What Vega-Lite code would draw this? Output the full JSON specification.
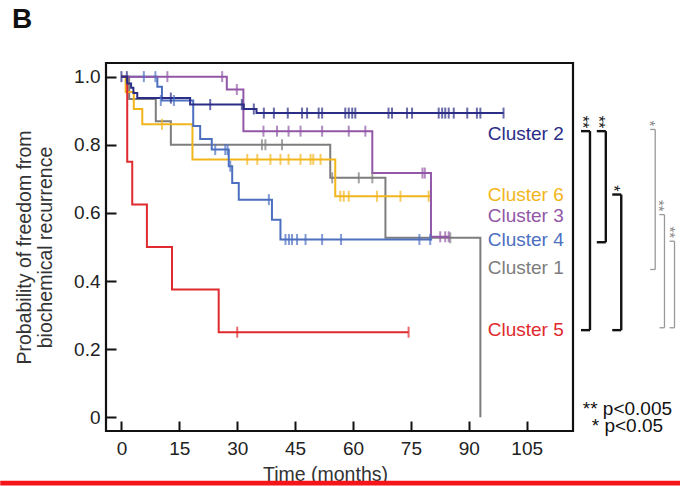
{
  "$schema": "https://vega.github.io/schema/vega-lite/v6.json",
  "width": 467,
  "height": 368,
  "autosize": {"type": "none"},
  "padding": {"left": 106, "top": 63, "right": 107, "bottom": 55},
  "background": "white",
  "config": {
    "font": "Liberation Sans",
    "view": {"stroke": "#111", "strokeWidth": 2.2},
    "axis": {
      "domain": false, "grid": false, "ticks": true,
      "tickColor": "#111", "tickWidth": 2, "tickSize": -10,
      "labelFontSize": 19, "labelColor": "#222",
      "titleFontSize": 19.5, "titleFontWeight": "normal", "titleColor": "#333"
    }
  },
  "title": {
    "text": "B", "anchor": "start", "frame": "group", "dx": -94, "dy": 26,
    "fontSize": 28, "fontWeight": "bold", "color": "#111",
    "baseline": "alphabetic", "offset": 33
  },
  "datasets": {
    "curves": [
      {"cluster": "Cluster 1", "t": 0, "s": 1}, {"cluster": "Cluster 1", "t": 2, "s": 0.934}, {"cluster": "Cluster 1", "t": 8.9, "s": 0.869}, {"cluster": "Cluster 1", "t": 12.8, "s": 0.8}, {"cluster": "Cluster 1", "t": 54.1, "s": 0.703}, {"cluster": "Cluster 1", "t": 68.4, "s": 0.527}, {"cluster": "Cluster 1", "t": 93, "s": 0},
      {"cluster": "Cluster 6", "t": 0, "s": 1}, {"cluster": "Cluster 6", "t": 1.1, "s": 0.955}, {"cluster": "Cluster 6", "t": 3.2, "s": 0.905}, {"cluster": "Cluster 6", "t": 5.4, "s": 0.86}, {"cluster": "Cluster 6", "t": 18.4, "s": 0.757}, {"cluster": "Cluster 6", "t": 55.4, "s": 0.649}, {"cluster": "Cluster 6", "t": 80, "s": 0.649},
      {"cluster": "Cluster 4", "t": 0, "s": 1}, {"cluster": "Cluster 4", "t": 9.3, "s": 0.97}, {"cluster": "Cluster 4", "t": 10.5, "s": 0.93}, {"cluster": "Cluster 4", "t": 18.6, "s": 0.855}, {"cluster": "Cluster 4", "t": 20.4, "s": 0.817}, {"cluster": "Cluster 4", "t": 23.4, "s": 0.786}, {"cluster": "Cluster 4", "t": 27.8, "s": 0.737}, {"cluster": "Cluster 4", "t": 28.7, "s": 0.688}, {"cluster": "Cluster 4", "t": 30.4, "s": 0.639}, {"cluster": "Cluster 4", "t": 39, "s": 0.58}, {"cluster": "Cluster 4", "t": 41.2, "s": 0.522}, {"cluster": "Cluster 4", "t": 80.5, "s": 0.522},
      {"cluster": "Cluster 3", "t": 0, "s": 1}, {"cluster": "Cluster 3", "t": 27.3, "s": 0.962}, {"cluster": "Cluster 3", "t": 31.6, "s": 0.84}, {"cluster": "Cluster 3", "t": 65, "s": 0.717}, {"cluster": "Cluster 3", "t": 80.2, "s": 0.53}, {"cluster": "Cluster 3", "t": 85, "s": 0.53},
      {"cluster": "Cluster 5", "t": 0, "s": 1}, {"cluster": "Cluster 5", "t": 1.5, "s": 0.75}, {"cluster": "Cluster 5", "t": 2.8, "s": 0.625}, {"cluster": "Cluster 5", "t": 6.6, "s": 0.5}, {"cluster": "Cluster 5", "t": 13.1, "s": 0.375}, {"cluster": "Cluster 5", "t": 25.2, "s": 0.25}, {"cluster": "Cluster 5", "t": 74.4, "s": 0.25},
      {"cluster": "Cluster 2", "t": 0, "s": 1}, {"cluster": "Cluster 2", "t": 1.5, "s": 0.98}, {"cluster": "Cluster 2", "t": 2.5, "s": 0.967}, {"cluster": "Cluster 2", "t": 3.1, "s": 0.952}, {"cluster": "Cluster 2", "t": 4.1, "s": 0.937}, {"cluster": "Cluster 2", "t": 17.8, "s": 0.918}, {"cluster": "Cluster 2", "t": 31.7, "s": 0.905}, {"cluster": "Cluster 2", "t": 35, "s": 0.893}, {"cluster": "Cluster 2", "t": 99, "s": 0.893}
    ],
    "censor": [
      {"cluster": "Cluster 1", "t": 36.4, "s": 0.8}, {"cluster": "Cluster 1", "t": 37.3, "s": 0.8}, {"cluster": "Cluster 1", "t": 41.6, "s": 0.8}, {"cluster": "Cluster 1", "t": 54.6, "s": 0.703}, {"cluster": "Cluster 1", "t": 61.5, "s": 0.703}, {"cluster": "Cluster 1", "t": 65, "s": 0.703}, {"cluster": "Cluster 1", "t": 85.2, "s": 0.527},
      {"cluster": "Cluster 6", "t": 10.5, "s": 0.86}, {"cluster": "Cluster 6", "t": 32.6, "s": 0.757}, {"cluster": "Cluster 6", "t": 35.2, "s": 0.757}, {"cluster": "Cluster 6", "t": 38.6, "s": 0.757}, {"cluster": "Cluster 6", "t": 41.2, "s": 0.757}, {"cluster": "Cluster 6", "t": 43.3, "s": 0.757}, {"cluster": "Cluster 6", "t": 46.4, "s": 0.757}, {"cluster": "Cluster 6", "t": 49, "s": 0.757}, {"cluster": "Cluster 6", "t": 49.7, "s": 0.757}, {"cluster": "Cluster 6", "t": 51.6, "s": 0.757}, {"cluster": "Cluster 6", "t": 56.7, "s": 0.649}, {"cluster": "Cluster 6", "t": 57.6, "s": 0.649}, {"cluster": "Cluster 6", "t": 58.9, "s": 0.649}, {"cluster": "Cluster 6", "t": 66.2, "s": 0.649}, {"cluster": "Cluster 6", "t": 72.3, "s": 0.649}, {"cluster": "Cluster 6", "t": 79.6, "s": 0.649},
      {"cluster": "Cluster 4", "t": 5.8, "s": 1}, {"cluster": "Cluster 4", "t": 8.8, "s": 1}, {"cluster": "Cluster 4", "t": 10.2, "s": 0.93}, {"cluster": "Cluster 4", "t": 13.6, "s": 0.93}, {"cluster": "Cluster 4", "t": 24.3, "s": 0.786}, {"cluster": "Cluster 4", "t": 26.9, "s": 0.786}, {"cluster": "Cluster 4", "t": 27.5, "s": 0.786}, {"cluster": "Cluster 4", "t": 28.2, "s": 0.737}, {"cluster": "Cluster 4", "t": 38.2, "s": 0.639}, {"cluster": "Cluster 4", "t": 42.5, "s": 0.522}, {"cluster": "Cluster 4", "t": 43.4, "s": 0.522}, {"cluster": "Cluster 4", "t": 44.2, "s": 0.522}, {"cluster": "Cluster 4", "t": 45.5, "s": 0.522}, {"cluster": "Cluster 4", "t": 47.7, "s": 0.522}, {"cluster": "Cluster 4", "t": 52, "s": 0.522}, {"cluster": "Cluster 4", "t": 56.9, "s": 0.522}, {"cluster": "Cluster 4", "t": 77.2, "s": 0.522}, {"cluster": "Cluster 4", "t": 80, "s": 0.522},
      {"cluster": "Cluster 3", "t": 11.9, "s": 1}, {"cluster": "Cluster 3", "t": 26.1, "s": 1}, {"cluster": "Cluster 3", "t": 29.9, "s": 0.962}, {"cluster": "Cluster 3", "t": 36.8, "s": 0.84}, {"cluster": "Cluster 3", "t": 40.3, "s": 0.84}, {"cluster": "Cluster 3", "t": 43.3, "s": 0.84}, {"cluster": "Cluster 3", "t": 46.4, "s": 0.84}, {"cluster": "Cluster 3", "t": 52, "s": 0.84}, {"cluster": "Cluster 3", "t": 58.9, "s": 0.84}, {"cluster": "Cluster 3", "t": 63.2, "s": 0.84}, {"cluster": "Cluster 3", "t": 78, "s": 0.717}, {"cluster": "Cluster 3", "t": 78.6, "s": 0.717}, {"cluster": "Cluster 3", "t": 82.6, "s": 0.53}, {"cluster": "Cluster 3", "t": 83.9, "s": 0.53}, {"cluster": "Cluster 3", "t": 84.8, "s": 0.53},
      {"cluster": "Cluster 5", "t": 30, "s": 0.25}, {"cluster": "Cluster 5", "t": 74.4, "s": 0.25},
      {"cluster": "Cluster 2", "t": 0, "s": 1}, {"cluster": "Cluster 2", "t": 1.4, "s": 1}, {"cluster": "Cluster 2", "t": 12.8, "s": 0.937}, {"cluster": "Cluster 2", "t": 23, "s": 0.918}, {"cluster": "Cluster 2", "t": 31.2, "s": 0.918}, {"cluster": "Cluster 2", "t": 34.3, "s": 0.905}, {"cluster": "Cluster 2", "t": 36.9, "s": 0.893}, {"cluster": "Cluster 2", "t": 39.5, "s": 0.893}, {"cluster": "Cluster 2", "t": 43.1, "s": 0.893}, {"cluster": "Cluster 2", "t": 46.8, "s": 0.893}, {"cluster": "Cluster 2", "t": 48.1, "s": 0.893}, {"cluster": "Cluster 2", "t": 51.1, "s": 0.893}, {"cluster": "Cluster 2", "t": 52, "s": 0.893}, {"cluster": "Cluster 2", "t": 58, "s": 0.893}, {"cluster": "Cluster 2", "t": 58.9, "s": 0.893}, {"cluster": "Cluster 2", "t": 59.8, "s": 0.893}, {"cluster": "Cluster 2", "t": 60.6, "s": 0.893}, {"cluster": "Cluster 2", "t": 69.2, "s": 0.893}, {"cluster": "Cluster 2", "t": 70.1, "s": 0.893}, {"cluster": "Cluster 2", "t": 74, "s": 0.893}, {"cluster": "Cluster 2", "t": 75.3, "s": 0.893}, {"cluster": "Cluster 2", "t": 82.2, "s": 0.893}, {"cluster": "Cluster 2", "t": 83.1, "s": 0.893}, {"cluster": "Cluster 2", "t": 83.9, "s": 0.893}, {"cluster": "Cluster 2", "t": 84.8, "s": 0.893}, {"cluster": "Cluster 2", "t": 86.1, "s": 0.893}, {"cluster": "Cluster 2", "t": 89.6, "s": 0.893}, {"cluster": "Cluster 2", "t": 92.1, "s": 0.893}, {"cluster": "Cluster 2", "t": 93, "s": 0.893}, {"cluster": "Cluster 2", "t": 99, "s": 0.893}
    ],
    "labels": [
      {"cluster": "Cluster 2", "ly": 0.833},
      {"cluster": "Cluster 6", "ly": 0.652},
      {"cluster": "Cluster 3", "ly": 0.591},
      {"cluster": "Cluster 4", "ly": 0.52},
      {"cluster": "Cluster 1", "ly": 0.439},
      {"cluster": "Cluster 5", "ly": 0.256}
    ],
    "brackets": [
      {"grp": "black", "col": 121.4, "top": 0.84, "bottom": 0.256, "mark": "**"},
      {"grp": "black", "col": 125.5, "top": 0.84, "bottom": 0.514, "mark": "**"},
      {"grp": "black", "col": 129.5, "top": 0.654, "bottom": 0.256, "mark": "*"},
      {"grp": "gray", "col": 138.3, "top": 0.845, "bottom": 0.434, "mark": "*"},
      {"grp": "gray", "col": 140.7, "top": 0.595, "bottom": 0.263, "mark": "**"},
      {"grp": "gray", "col": 143.3, "top": 0.517, "bottom": 0.263, "mark": "**"}
    ]
  },
  "layer": [
    {
      "data": {"name": "curves"},
      "mark": {"type": "line", "interpolate": "step-after", "strokeWidth": 2, "clip": true},
      "encoding": {
        "x": {"field": "t", "type": "quantitative",
          "scale": {"domain": [-4, 117], "nice": false, "zero": false},
          "axis": {"values": [0, 15, 30, 45, 60, 75, 90, 105], "title": "Time (months)", "labelPadding": 18, "titlePadding": 7, "titleX": 219}},
        "y": {"field": "s", "type": "quantitative",
          "scale": {"domain": [-0.04, 1.04], "nice": false, "zero": false},
          "axis": {"values": [0, 0.2, 0.4, 0.6, 0.8, 1], "labelExpr": "datum.value == 0 ? '0' : format(datum.value, '.1f')",
            "title": ["Probability of freedom from", "biochemical recurrence"], "titleLineHeight": 21, "labelPadding": 16, "titlePadding": 18}},
        "color": {"field": "cluster", "type": "nominal", "legend": null,
          "scale": {"domain": ["Cluster 1", "Cluster 6", "Cluster 4", "Cluster 3", "Cluster 5", "Cluster 2"],
            "range": ["#7d7d7d", "#f2b51c", "#4c6fc0", "#9257a6", "#df2a2e", "#2b2d86"]}}
      }
    },
    {
      "data": {"name": "censor"},
      "mark": {"type": "tick", "orient": "vertical", "size": 11, "thickness": 2, "clip": true},
      "encoding": {
        "x": {"field": "t", "type": "quantitative"},
        "y": {"field": "s", "type": "quantitative"},
        "color": {"field": "cluster", "type": "nominal", "legend": null}
      }
    },
    {
      "data": {"name": "labels"},
      "mark": {"type": "text", "align": "right", "baseline": "middle", "fontSize": 19},
      "encoding": {
        "x": {"datum": 114.6},
        "y": {"field": "ly", "type": "quantitative"},
        "text": {"field": "cluster"},
        "color": {"field": "cluster", "type": "nominal", "legend": null}
      }
    },
    {
      "data": {"name": "brackets"},
      "mark": {"type": "rule", "clip": false},
      "encoding": {
        "x": {"field": "col", "type": "quantitative"},
        "y": {"field": "top", "type": "quantitative"},
        "y2": {"field": "bottom"},
        "stroke": {"field": "grp", "type": "nominal", "legend": null, "scale": {"domain": ["black", "gray"], "range": ["#111111", "#999999"]}},
        "strokeWidth": {"field": "grp", "type": "nominal", "legend": null, "scale": {"domain": ["black", "gray"], "range": [2.4, 1.3]}}
      }
    },
    {
      "data": {"name": "brackets"},
      "transform": [{"filter": "datum.grp == 'black'"}],
      "mark": {"type": "rule", "clip": false, "x2Offset": -9, "color": "#111111", "strokeWidth": 2.4},
      "encoding": {
        "x": {"field": "col", "type": "quantitative"},
        "x2": {"field": "col"},
        "y": {"field": "top", "type": "quantitative"}
      }
    },
    {
      "data": {"name": "brackets"},
      "transform": [{"filter": "datum.grp == 'black'"}],
      "mark": {"type": "rule", "clip": false, "x2Offset": -9, "color": "#111111", "strokeWidth": 2.4},
      "encoding": {
        "x": {"field": "col", "type": "quantitative"},
        "x2": {"field": "col"},
        "y": {"field": "bottom", "type": "quantitative"}
      }
    },
    {
      "data": {"name": "brackets"},
      "transform": [{"filter": "datum.grp == 'gray'"}],
      "mark": {"type": "rule", "clip": false, "x2Offset": -5, "color": "#999999", "strokeWidth": 1.3},
      "encoding": {
        "x": {"field": "col", "type": "quantitative"},
        "x2": {"field": "col"},
        "y": {"field": "top", "type": "quantitative"}
      }
    },
    {
      "data": {"name": "brackets"},
      "transform": [{"filter": "datum.grp == 'gray'"}],
      "mark": {"type": "rule", "clip": false, "x2Offset": -5, "color": "#999999", "strokeWidth": 1.3},
      "encoding": {
        "x": {"field": "col", "type": "quantitative"},
        "x2": {"field": "col"},
        "y": {"field": "bottom", "type": "quantitative"}
      }
    },
    {
      "data": {"name": "brackets"},
      "transform": [{"filter": "datum.grp == 'black'"}],
      "mark": {"type": "text", "clip": false, "angle": 90, "align": "right", "baseline": "middle", "fontSize": 16, "color": "#111111", "xOffset": -8, "yOffset": -3},
      "encoding": {
        "x": {"field": "col", "type": "quantitative"},
        "y": {"field": "top", "type": "quantitative"},
        "text": {"field": "mark"}
      }
    },
    {
      "data": {"name": "brackets"},
      "transform": [{"filter": "datum.grp == 'gray'"}],
      "mark": {"type": "text", "clip": false, "angle": 90, "align": "right", "baseline": "middle", "fontSize": 15, "color": "#888888", "xOffset": -5, "yOffset": -3},
      "encoding": {
        "x": {"field": "col", "type": "quantitative"},
        "y": {"field": "top", "type": "quantitative"},
        "text": {"field": "mark"}
      }
    },
    {
      "data": {"values": [{}]},
      "mark": {"type": "text", "clip": false, "text": ["** p<0.005", "* p<0.05"], "align": "center", "baseline": "middle", "fontSize": 19, "lineHeight": 17, "color": "#111111"},
      "encoding": {
        "x": {"datum": 131.1},
        "y": {"datum": 0.024}
      }
    },
    {
      "data": {"values": [{}]},
      "mark": {"type": "rect", "clip": false, "color": "#f5141a"},
      "encoding": {
        "x": {"datum": -31.4},
        "x2": {"datum": 144.9},
        "y": {"datum": -0.186},
        "y2": {"datum": -0.2}
      }
    }
  ]
}
